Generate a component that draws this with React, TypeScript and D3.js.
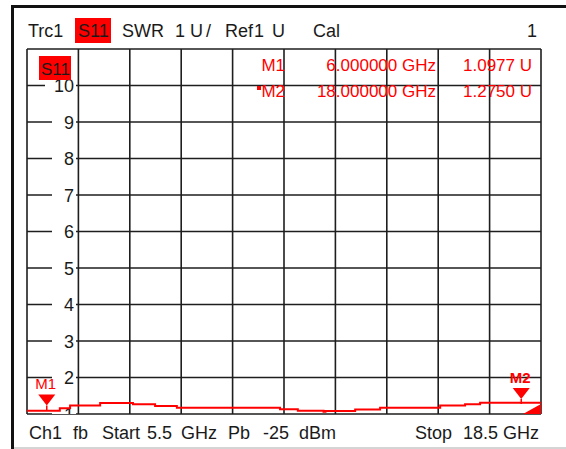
import React from "react";
import * as d3 from "d3";

const freqGHz = [5.5, 6.33, 6.59, 7.35, 8.18, 8.74, 9.29, 11.9, 12.35, 13.0, 13.05, 13.8, 14.43, 15.95, 16.58, 16.96, 18.5];
const swrValues = [1.09, 1.16, 1.23, 1.3, 1.27, 1.22, 1.17, 1.13, 1.09, 1.06, 1.08, 1.12, 1.17, 1.23, 1.27, 1.31, 1.31];
const yTickLabels = [1, 2, 3, 4, 5, 6, 7, 8, 9, 10];
const markerNames = ["M1", "M2"];
const markerFreq = [6.0, 18.0];
const markerValue = [1.0977, 1.275];
const markerFreqText = ["6.000000 GHz", "18.000000 GHz"];
const markerValueText = ["1.0977 U", "1.2750 U"];

const W = 566, H = 449;
const L = 27, R = 541, T = 49, B = 414;
const RED = "#ff0000";
const FONT = "'Liberation Sans', Arial, sans-serif";

export default function App() {
  const x = d3.scaleLinear().domain([5.5, 18.5]).range([L, R]);
  const y = d3.scaleLinear().domain([1, 11]).range([B, T]);
  const xGrid = d3.range(11).map((i) => 5.5 + i * 1.3);
  const yGrid = d3.range(1, 12);
  const pts = freqGHz.map((f, i) => [f, swrValues[i]] as [number, number]);
  const line = d3.line<[number, number]>().x((d) => x(d[0])).y((d) => y(d[1])).curve(d3.curveStepAfter);

  return (
    <svg width={W} height={H} style={{ position: "absolute", left: 0, top: 0 }} fontFamily={FONT}>
      <rect x={0} y={0} width={W} height={H} fill="#fff" />
      {/* frame */}
      <rect x={11} y={5} width={3} height={H - 5} fill="#111" />
      <rect x={11} y={5} width={W - 11} height={3} fill="#111" />
      <line x1={14} x2={W} y1={448} y2={448} stroke="#aaa" strokeWidth={1} />

      {/* header */}
      <g fontSize={18} fill="#1a1a1a">
        <text x={28} y={37}>Trc1</text>
        <rect x={75} y={18} width={36} height={25} fill={RED} />
        <text x={78} y={37}>S11</text>
        <text x={122} y={37}>SWR</text>
        <text x={175} y={37}>1</text>
        <text x={190} y={37}>U</text>
        <text x={206} y={37}>/</text>
        <text x={225} y={37}>Ref</text>
        <text x={254} y={37}>1</text>
        <text x={272} y={37}>U</text>
        <text x={313} y={37}>Cal</text>
        <text x={537} y={37} textAnchor="end">1</text>
      </g>

      <defs>
        <clipPath id="plot">
          <rect x={L} y={T} width={R - L} height={B - T} />
        </clipPath>
      </defs>

      {/* grid */}
      <g stroke="#1e1e1e" strokeWidth={1.6}>
        {xGrid.map((f, i) => (
          <line key={"vx" + i} x1={x(f)} x2={x(f)} y1={T} y2={B} />
        ))}
        {yGrid.map((v) => (
          <line key={"hy" + v} x1={L} x2={R} y1={y(v)} y2={y(v)} />
        ))}
      </g>

      {/* y labels */}
      <g clipPath="url(#plot)" fontSize={18} fill="#1a1a1a">
        {yTickLabels.map((v) => (
          <g key={"yl" + v}>
            <rect x={v >= 10 ? 45 : 52} y={y(v) - 8} width={v >= 10 ? 31 : 24} height={16} fill="#fff" />
            <text x={74} y={y(v) + 6.5} textAnchor="end">{v}</text>
          </g>
        ))}
      </g>

      {/* trace label */}
      <rect x={39} y={56} width={32} height={24} fill={RED} />
      <text x={41} y={75} fontSize={17} fill="#1a1a1a">S11</text>

      {/* marker table */}
      <g fontSize={17} fill={RED}>
        {markerNames.map((m, i) => (
          <g key={"mt" + m}>
            {i === 1 && <rect x={257} y={86} width={4} height={4} fill={RED} />}
            <text x={285} y={71 + i * 26} textAnchor="end">{m}</text>
            <text x={436} y={71 + i * 26} textAnchor="end">{markerFreqText[i]}</text>
            <text x={532} y={71 + i * 26} textAnchor="end">{markerValueText[i]}</text>
          </g>
        ))}
      </g>

      {/* trace */}
      <g clipPath="url(#plot)">
        <path d={line(pts) || ""} fill="none" stroke={RED} strokeWidth={2} />
        <polygon
          points={`${x(18.5) - 18},${y(1)} ${x(18.5)},${y(1) - 10} ${x(18.5)},${y(1)}`}
          fill={RED}
        />
      </g>

      {/* markers */}
      {markerNames.map((m, i) => {
        const mx = x(markerFreq[i]);
        const my = y(markerValue[i]);
        const apex = my - 5;
        return (
          <g key={"mk" + m} fill={RED}>
            <polygon points={`${mx - 8.5},${apex - 11} ${mx + 8.5},${apex - 11} ${mx},${apex}`} />
            <line x1={mx} x2={mx} y1={apex} y2={my} stroke={RED} strokeWidth={1.5} />
            <text x={mx - 1} y={apex - 16} textAnchor="middle" fontSize={15} fontWeight={i === 1 ? "bold" : "normal"}>
              {m}
            </text>
          </g>
        );
      })}

      {/* footer */}
      <g fontSize={18} fill="#1a1a1a">
        <text x={29} y={439}>Ch1</text>
        <text x={73} y={439}>fb</text>
        <text x={102} y={439}>Start</text>
        <text x={147} y={439}>5.5</text>
        <text x={181} y={439}>GHz</text>
        <text x={228} y={439}>Pb</text>
        <text x={263} y={439}>-25</text>
        <text x={336} y={439} textAnchor="end">dBm</text>
        <text x={415} y={439}>Stop</text>
        <text x={539} y={439} textAnchor="end">18.5 GHz</text>
      </g>
    </svg>
  );
}
